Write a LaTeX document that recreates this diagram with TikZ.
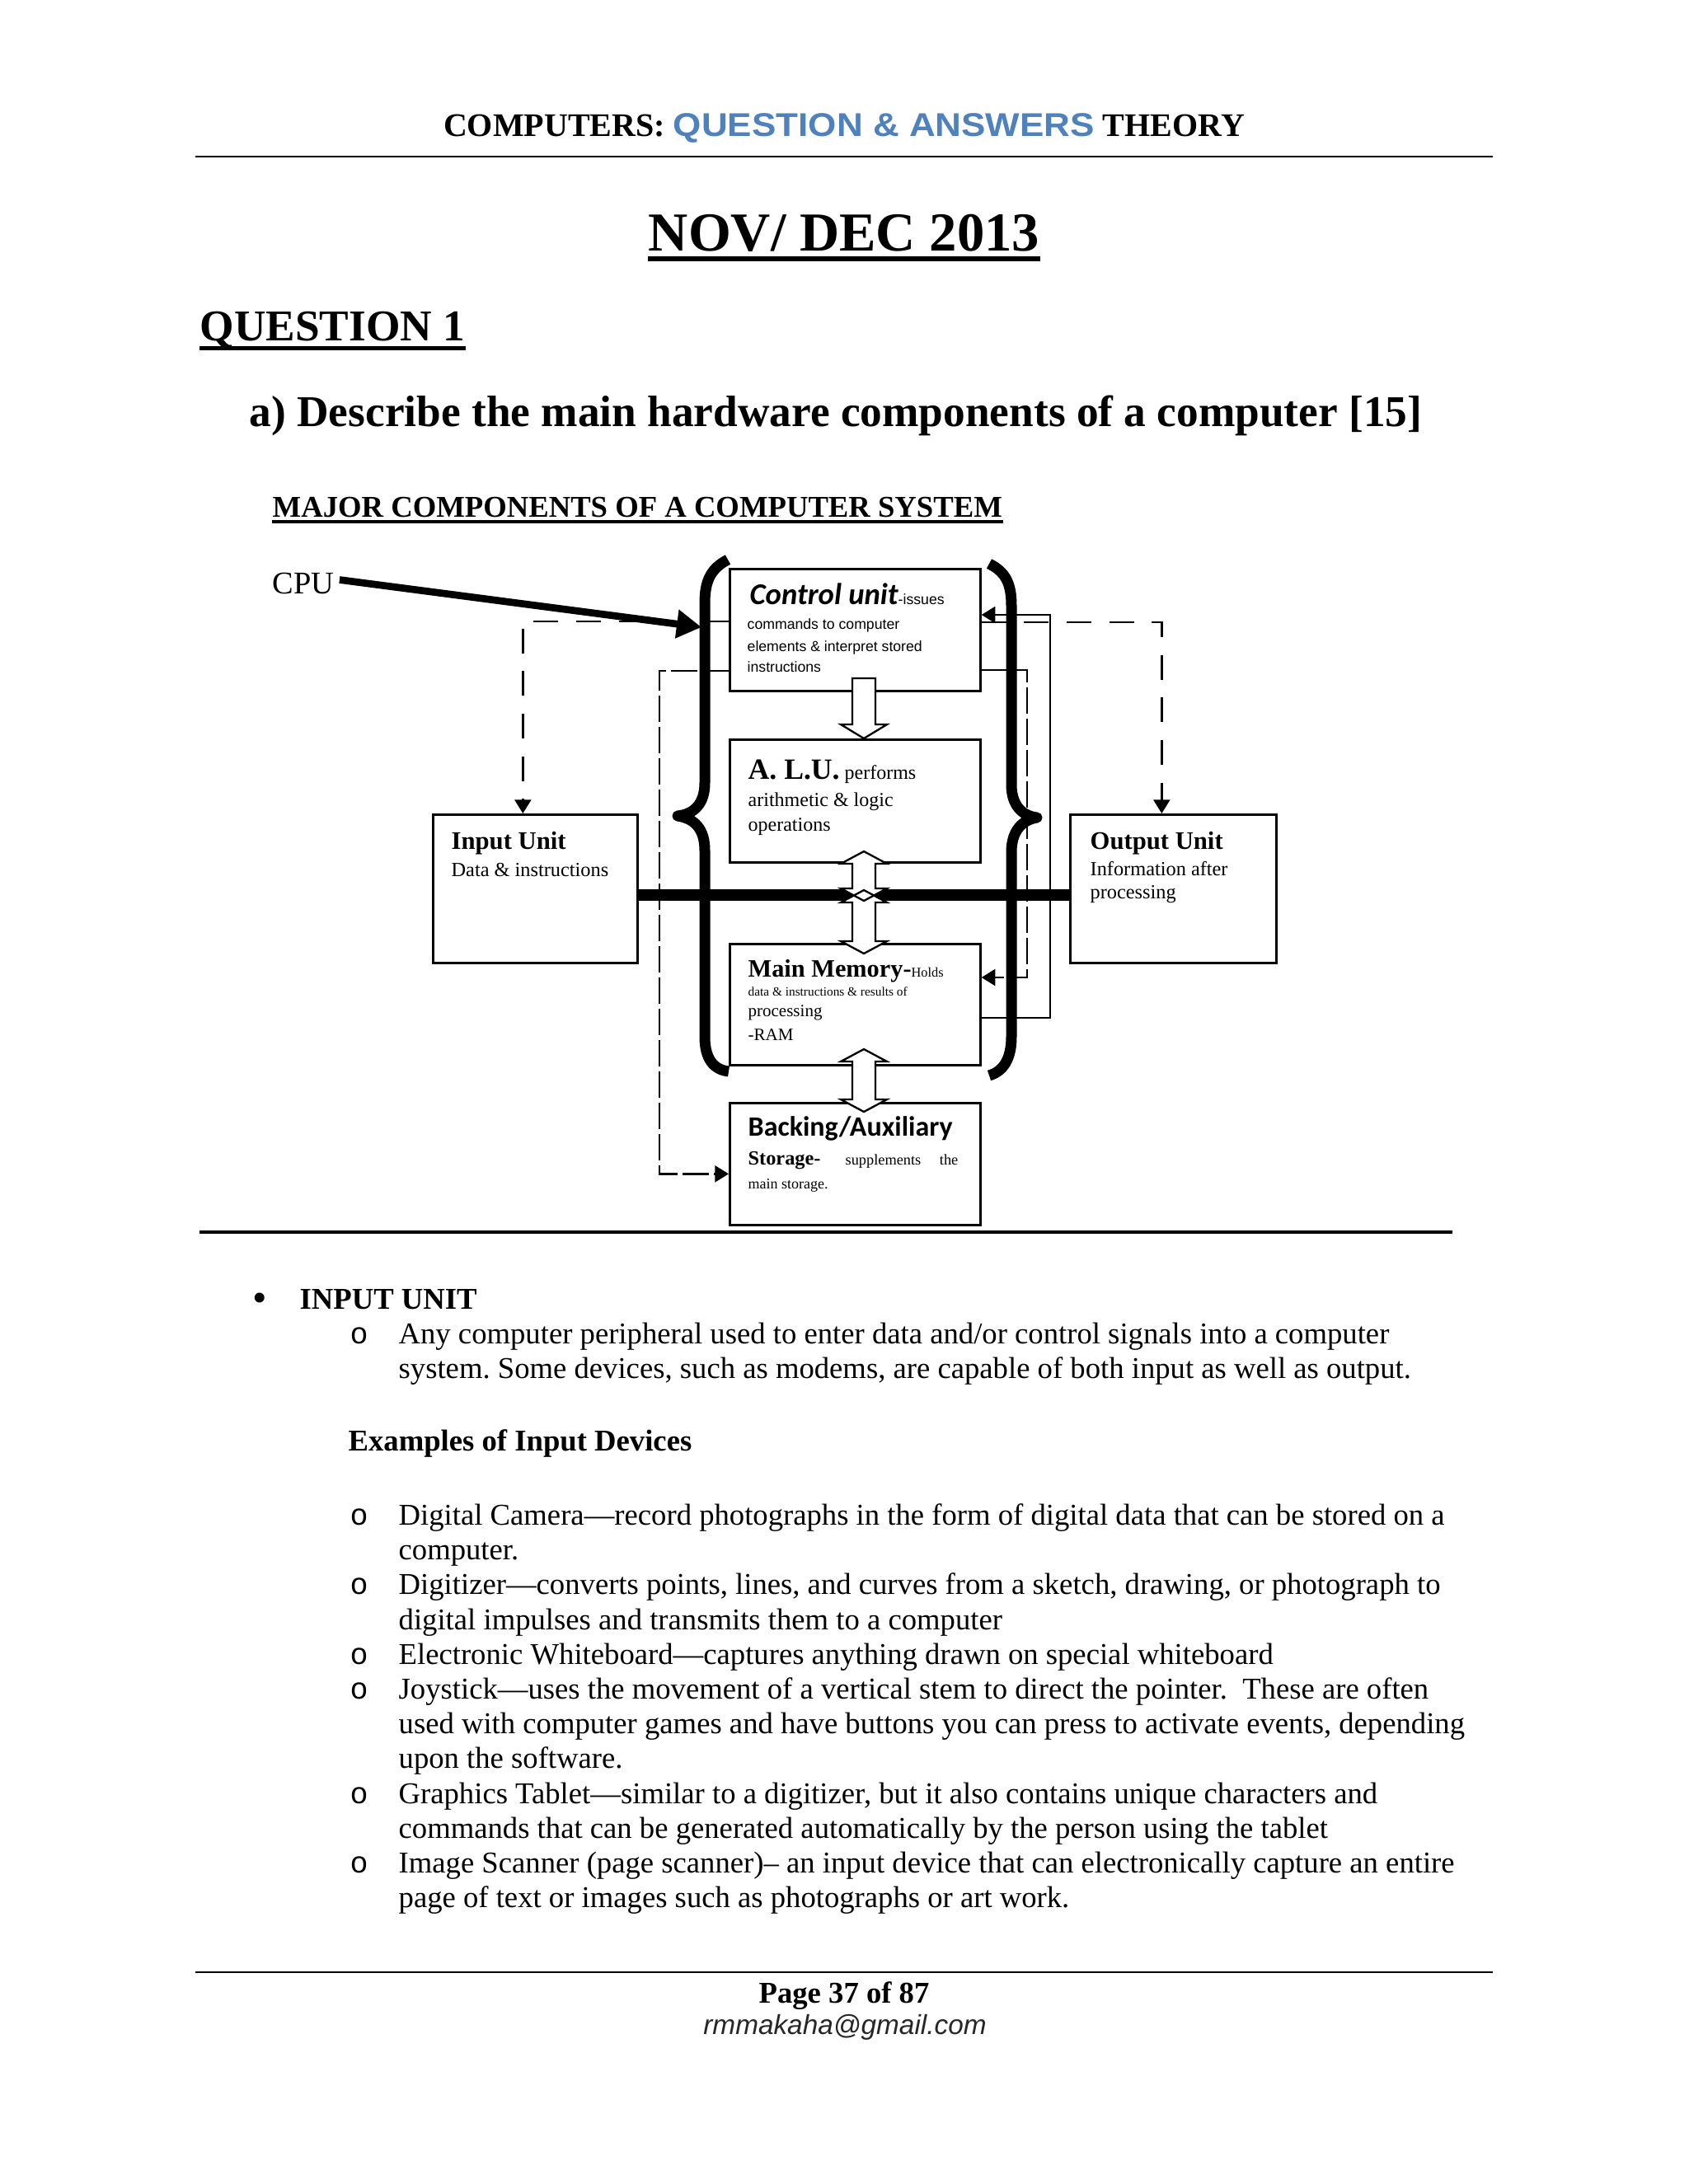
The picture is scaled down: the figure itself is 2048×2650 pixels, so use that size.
\documentclass[tikz,border=0pt]{standalone}
\usepackage{fontspec}
\usepackage{graphicx}
\setmainfont{Liberation Serif}
\setsansfont{Liberation Sans}
\setmonofont{Liberation Mono}
\newfontfamily\calibfont{Carlito}
\usetikzlibrary{arrows.meta, positioning}
\definecolor{qablue}{RGB}{79,129,189}
\newlength\pxu
\setlength\pxu{0.29995pt}
\newcommand{\fsz}[1]{\fontsize{#1pt}{#1pt}\selectfont}
\frenchspacing
% hollow double block arrow: [options]{x}{top tip}{bottom tip}
\newcommand{\dblarrow}[4][]{%
  \path[#1] (#2,#3) -- (#2+28,#3+15) -- (#2+14,#3+15) -- (#2+14,#4-15) -- (#2+28,#4-15) -- (#2,#4)
    -- (#2-28,#4-15) -- (#2-14,#4-15) -- (#2-14,#3+15) -- (#2-28,#3+15) -- cycle;}

\begin{document}
\begin{tikzpicture}[
  x=0.29995pt, y=-0.29995pt,
  unitbox/.style={rectangle, draw=black, line width=0.8pt, inner sep=0pt, anchor=north west},
  txt/.style={anchor=base west, inner sep=0pt},
  body/.style={txt, font=\fsz{11}},
  obul/.style={txt, font=\fsz{11}\ttfamily},
  wire/.style={line width=0.7pt},
  ctrlline/.style={wire, dash pattern=on 9pt off 6.5pt},
  dataline/.style={wire, dash pattern=on 9.6pt off 1.8pt},
  busline/.style={line width=4.2pt},
  bracestroke/.style={line width=3.9pt, line join=round},
  arrowend/.style={-{Triangle[length=5pt,width=6pt]}},
  rulebar/.style={line width=0.6pt}
]
\useasboundingbox (0,0) rectangle (2048,2650);
\fill[white] (0,0) rectangle (2048,2650);

% Page header
\node[txt, anchor=base] (hdr) at (1024,165) {\fsz{12}\rmfamily\bfseries COMPUTERS: {\sffamily\color{qablue}\scalebox{1.1}[1]{QUESTION \& ANSWERS}} THEORY};
\draw[rulebar] (237,190) -- (1811,190);

\node[txt, anchor=base, font=\fsz{20}\bfseries] (nov) at (1024,304) {NOV/ DEC 2013};
\draw[line width=1.8pt] ([shift={(0,10)}]nov.base west) -- ([shift={(0,10)}]nov.base east);
\node[txt, font=\fsz{16}\bfseries] (q1) at (242,413) {QUESTION 1};
\draw[line width=1.5pt] ([shift={(0,9)}]q1.base west) -- ([shift={(0,9)}]q1.base east);
\node[txt, font=\fsz{16}\bfseries] (qa) at (302,517) {a) Describe the main hardware components of a computer [15]};

% Diagram title
\node[txt, font=\fsz{11}\bfseries] (mtitle) at (330,627) {MAJOR COMPONENTS OF A COMPUTER SYSTEM};
\draw[line width=1.2pt] ([shift={(0,6)}]mtitle.base west) -- ([shift={(0,6)}]mtitle.base east);
\node[txt, font=\fsz{11.5}] (cpu) at (330,720) {CPU};

% Units
\node[unitbox, minimum width=304\pxu, minimum height=148\pxu] (cu) at (884,689) {};
\node[unitbox, minimum width=304\pxu, minimum height=149\pxu] (alu) at (884,896) {};
\node[unitbox, minimum width=304\pxu, minimum height=147\pxu] (mem) at (884,1144) {};
\node[unitbox, minimum width=304\pxu, minimum height=148\pxu] (aux) at (884,1337) {};
\node[unitbox, minimum width=248\pxu, minimum height=180\pxu] (inp) at (524,987) {};
\node[unitbox, minimum width=250\pxu, minimum height=180\pxu] (outp) at (1297,987) {};

% Unit texts
\node[txt] (cu-t) at ([shift={(25,44)}]cu.north west) {{\calibfont\bfseries\itshape\fsz{11}Control unit}{\sffamily\fsz{5.3}-issues}};
\node[txt, font=\sffamily\fsz{5.3}] (cu-l1) at ([shift={(22,74)}]cu.north west) {commands to computer};
\node[txt, font=\sffamily\fsz{5.3}] (cu-l2) at ([shift={(22,101)}]cu.north west) {elements \& interpret stored};
\node[txt, font=\sffamily\fsz{5.3}] (cu-l3) at ([shift={(22,126)}]cu.north west) {instructions};

\node[txt] (alu-t) at ([shift={(23,49)}]alu.north west) {{\bfseries\fsz{10.7}A. L.U.}\fsz{7.2} performs};
\node[txt, font=\fsz{7.2}] (alu-l1) at ([shift={(23,82)}]alu.north west) {arithmetic \& logic};
\node[txt, font=\fsz{7.2}] (alu-l2) at ([shift={(23,112)}]alu.north west) {operations};

\node[txt] (mem-t) at ([shift={(23,41)}]mem.north west) {{\bfseries\fsz{9.1}Main Memory-}{\fsz{4.9}Holds}};
\node[txt, font=\fsz{4.6}] (mem-l1) at ([shift={(23,64)}]mem.north west) {data \& instructions \& results of};
\node[txt, font=\fsz{6.3}] (mem-l2) at ([shift={(23,89)}]mem.north west) {processing};
\node[txt, font=\fsz{6.3}] (mem-l3) at ([shift={(23,118)}]mem.north west) {-RAM};

\node[txt, font=\calibfont\bfseries\fsz{10.2}] (aux-t) at ([shift={(23,41)}]aux.north west) {Backing/Auxiliary};
\node[txt, font=\bfseries\fsz{7.3}] (aux-l1) at ([shift={(23,76)}]aux.north west) {Storage-};
\node[txt, font=\fsz{5.5}] (aux-l1b) at ([shift={(141,76)}]aux.north west) {supplements};
\node[txt, anchor=base east, font=\fsz{5.5}] (aux-l1c) at ([shift={(279,76)}]aux.north west) {the};
\node[txt, font=\fsz{5.4}] (aux-l2) at ([shift={(23,105)}]aux.north west) {main storage.};

\node[txt, font=\bfseries\fsz{9.2}] (inp-t) at ([shift={(23,43)}]inp.north west) {Input Unit};
\node[txt, font=\fsz{7.3}] (inp-l1) at ([shift={(23,76)}]inp.north west) {Data \& instructions};
\node[txt, font=\bfseries\fsz{9.2}] (outp-t) at ([shift={(25,43)}]outp.north west) {Output Unit};
\node[txt, font=\fsz{7.3}] (outp-l1) at ([shift={(25,75)}]outp.north west) {Information after};
\node[txt, font=\fsz{7.3}] (outp-l2) at ([shift={(25,103)}]outp.north west) {processing};

% Signal lines
\draw[ctrlline, arrowend] ([shift={(0,65)}]cu.north west) -| ([shift={(-15,0)}]inp.north);
\draw[dataline, arrowend] ([shift={(0,125)}]cu.north west) -- ++(-84,0) |- ([shift={(0,12)}]aux.west);
\draw[ctrlline, arrowend] ([shift={(0,66)}]cu.north east) -| ([shift={(-14,0)}]outp.north);
\draw[wire, arrowend] ([shift={(0,91)}]mem.north east) -- ++(83,0) |- ([shift={(0,57)}]cu.north east);
\draw[dataline, arrowend] ([shift={(0,124)}]cu.north east) -- ++(55,0) |- ([shift={(0,42)}]mem.north east);

% System bus
\draw[busline] ([shift={(0,8)}]inp.east) -- ([shift={(0,8)}]outp.west);

% CPU braces
\draw[bracestroke] (883,679) .. controls (862,690) and (855,705) .. (855,732) -- (855,950)
  .. controls (855,975) and (842,988) .. (822,990) .. controls (842,993) and (855,1005) .. (855,1032)
  -- (855,1258) .. controls (855,1285) and (866,1298) .. (884,1300);
\draw[bracestroke] (1200,684) .. controls (1220,694) and (1227,708) .. (1227,735) -- (1227,952)
  .. controls (1227,977) and (1240,990) .. (1258,992) .. controls (1240,995) and (1227,1008) .. (1227,1034)
  -- (1227,1258) .. controls (1227,1285) and (1217,1300) .. (1200,1305);

\coordinate (cputip) at (851,761);
\draw[line width=2.6pt, -{Triangle[length=9pt,width=10pt]}] ([shift={(6,-4)}]cpu.east) -- (cputip);

% Block arrows between units
\draw[wire, fill=white] (1034,823) -- (1062,823) -- (1062,879) -- (1076,879) -- (1048,896) -- (1020,879) -- (1034,879) -- cycle;
\dblarrow[fill=white]{1048}{1033}{1093}
\dblarrow[fill=white]{1048}{1080}{1157}
\dblarrow[draw, wire]{1048}{1033}{1093}
\dblarrow[draw, wire]{1048}{1080}{1157}
\dblarrow[draw, wire, fill=white]{1048}{1273}{1349}

\draw[line width=1.4pt] (242,1495) -- (1762,1495);

% Input unit notes
\node[txt, font=\fsz{15}] (bul) at (306,1591) {•};
\node[txt, font=\fsz{11}\bfseries] (inhead) at (363,1588) {INPUT UNIT};
\node[obul] (o1) at (424,1630) {o};
\node[body] (p1) at (483,1630) {Any computer peripheral used to enter data and/or control signals into a computer};
\node[body] (p2) at (483,1672) {system. Some devices, such as modems, are capable of both input as well as output.};
\node[txt, font=\fsz{11}\bfseries] (exhead) at (422,1760) {Examples of Input Devices};

\node[obul] (o2) at (424,1850) {o};
\node[body] (d1) at (483,1850) {Digital Camera—record photographs in the form of digital data that can be stored on a};
\node[body] (d2) at (483,1892) {computer.};
\node[obul] (o3) at (424,1934) {o};
\node[body] (d3) at (483,1934) {Digitizer—converts points, lines, and curves from a sketch, drawing, or photograph to};
\node[body] (d4) at (483,1977) {digital impulses and transmits them to a computer};
\node[obul] (o4) at (424,2019) {o};
\node[body] (d5) at (483,2019) {Electronic Whiteboard—captures anything drawn on special whiteboard};
\node[obul] (o5) at (424,2061) {o};
\node[body] (d6) at (483,2061) {Joystick—uses the movement of a vertical stem to direct the pointer.\ \ These are often};
\node[body] (d7) at (483,2103) {used with computer games and have buttons you can press to activate events, depending};
\node[body] (d8) at (483,2145) {upon the software.};
\node[obul] (o6) at (424,2188) {o};
\node[body] (d9) at (483,2188) {Graphics Tablet—similar to a digitizer, but it also contains unique characters and};
\node[body] (d10) at (483,2230) {commands that can be generated automatically by the person using the tablet};
\node[obul] (o7) at (424,2272) {o};
\node[body] (d11) at (483,2272) {Image Scanner (page scanner)– an input device that can electronically capture an entire};
\node[body] (d12) at (483,2314) {page of text or images such as photographs or art work.};

% Page footer
\draw[rulebar] (237,2393) -- (1811,2393);
\node[txt, anchor=base, font=\fsz{11}\bfseries] (pg) at (1024,2430) {Page 37 of 87};
\node[txt, anchor=base, font=\fsz{10}\sffamily\itshape, text=black!85] (mail) at (1025,2468) {rmmakaha@gmail.com};

\end{tikzpicture}
\end{document}
